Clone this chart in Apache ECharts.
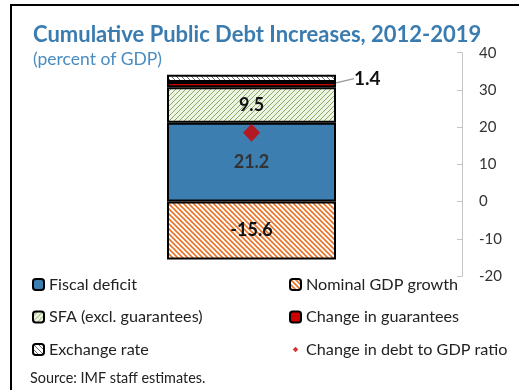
<!DOCTYPE html>
<html>
<head>
<meta charset="utf-8">
<script src="https://cdn.jsdelivr.net/npm/echarts@6/dist/echarts.min.js"></script>
<style>
  html, body { margin: 0; padding: 0; background: #fff; }
  #chart { width: 519px; height: 390px; }
</style>
</head>
<body>
<div id="chart"></div>
<script>
// Decomposition of the cumulative change in public debt, 2012-2019 (percent of GDP)
const categories = ['2012-2019'];
const fiscalDeficit = [21.2];
const sfa = [9.5];
const guarantees = [1.4];
const exchangeRate = [2.0];
const nominalGdpGrowth = [-15.6];
const debtChange = [18.5];
const yTicks = { min: -20, max: 40, interval: 10 };

const FONT = 'Lato';

// Hatched fills drawn on small repeating tiles
function hatch(bg, fg, size, lw, dir) {
  const c = document.createElement('canvas');
  c.width = size; c.height = size;
  const g = c.getContext('2d');
  g.fillStyle = bg; g.fillRect(0, 0, size, size);
  g.strokeStyle = fg; g.lineWidth = lw;
  g.beginPath();
  for (let k = -1; k <= 1; k++) {
    if (dir === 'back') {
      g.moveTo(k * size - 1, -1); g.lineTo(k * size + size + 1, size + 1);
    } else {
      g.moveTo(k * size - 1, size + 1); g.lineTo(k * size + size + 1, -1);
    }
  }
  g.stroke();
  return { image: c, repeat: 'repeat' };
}

const fillExchange = hatch('#ffffff', '#6b6b6b', 5, 1, 'back');
const fillSfa = hatch('#eef4e4', '#8aab62', 5, 1, 'fwd');
const fillGdp = hatch('#ffffff', '#e8742a', 5, 1.6, 'back');

const chart = echarts.init(document.getElementById('chart'));

const border = { borderColor: '#000', borderWidth: 2 };
const insideLabel = (color) => ({
  show: true, position: 'inside', fontFamily: FONT, fontWeight: 'bold',
  fontSize: 18, color: color
});
const legendText = { fontFamily: FONT, fontSize: 16.2, color: '#222', lineHeight: 17 };

chart.setOption({
  animation: false,
  title: [
    {
      text: 'Cumulative Public Debt Increases, 2012-2019',
      left: 28, top: 19,
      textStyle: { fontFamily: FONT, fontWeight: 'bold', fontSize: 22, color: '#3a7cb0' }
    },
    {
      text: '(percent of GDP)',
      left: 28, top: 45,
      textStyle: { fontFamily: FONT, fontWeight: 'normal', fontSize: 17.5, color: '#4a8cc0' }
    },
    {
      text: 'Source: IMF staff estimates.',
      left: 25, top: 366,
      textStyle: { fontFamily: FONT, fontWeight: 'normal', fontSize: 14.4, color: '#222' }
    }
  ],
  graphic: [
    {
      type: 'rect', silent: true, z: 100,
      shape: { x: 11, y: 5, width: 620, height: 500 },
      style: { fill: 'none', stroke: '#000', lineWidth: 2 }
    }
  ],
  grid: { left: 41, right: 57, top: 52.7, bottom: 114 },
  xAxis: {
    type: 'category', data: categories, show: false
  },
  yAxis: {
    type: 'value', position: 'right',
    min: yTicks.min, max: yTicks.max, interval: yTicks.interval,
    axisLine: { show: true, lineStyle: { color: '#c4c4c4', width: 1 } },
    axisTick: { show: true, inside: true, length: 5, lineStyle: { color: '#c4c4c4' } },
    splitLine: { show: false },
    axisLabel: { margin: 17, fontFamily: FONT, fontSize: 15, color: '#333' }
  },
  legend: [
    {
      left: 27, top: 271, orient: 'vertical', itemGap: 15.5,
      itemWidth: 11, itemHeight: 11,
      textStyle: legendText,
      itemStyle: { borderColor: '#000', borderWidth: 2 },
      data: ['Fiscal deficit', 'SFA (excl. guarantees)', 'Exchange rate']
    },
    {
      left: 284, top: 271, orient: 'vertical', itemGap: 15.5,
      itemWidth: 11, itemHeight: 11,
      textStyle: legendText,
      itemStyle: { borderColor: '#000', borderWidth: 2 },
      data: [
        'Nominal GDP growth',
        'Change in guarantees',
        {
          name: 'Change in debt to GDP ratio',
          icon: 'path://M0,0M20,20M10,5L15,10L10,15L5,10Z',
          itemStyle: { borderWidth: 0 }
        }
      ]
    }
  ],
  series: [
    {
      name: 'Fiscal deficit', type: 'bar', stack: 'debt', barWidth: 169,
      data: fiscalDeficit,
      itemStyle: Object.assign({ color: '#3c7eb0' }, border),
      label: insideLabel('#333')
    },
    {
      name: 'SFA (excl. guarantees)', type: 'bar', stack: 'debt', barWidth: 169,
      data: sfa,
      itemStyle: Object.assign({ color: fillSfa }, border),
      label: insideLabel('#111')
    },
    {
      name: 'Change in guarantees', type: 'bar', stack: 'debt', barWidth: 169,
      data: guarantees,
      itemStyle: Object.assign({ color: '#d00000' }, border),
      label: {
        show: true, position: 'right', distance: 0,
        fontFamily: FONT, fontWeight: 'bold', fontSize: 19, color: '#111'
      },
      labelLayout: { dx: 18, dy: -6 },
      labelLine: { show: true, lineStyle: { color: '#999', width: 1.2 } }
    },
    {
      name: 'Exchange rate', type: 'bar', stack: 'debt', barWidth: 169,
      data: exchangeRate,
      itemStyle: Object.assign({ color: fillExchange }, border)
    },
    {
      name: 'Nominal GDP growth', type: 'bar', stack: 'debt', barWidth: 169,
      data: nominalGdpGrowth,
      itemStyle: Object.assign({ color: fillGdp }, border),
      label: insideLabel('#111')
    },
    {
      name: 'Change in debt to GDP ratio', type: 'scatter',
      data: debtChange, symbol: 'diamond', symbolSize: [17, 18], z: 10,
      itemStyle: { color: '#d00000' }
    }
  ]
});
</script>
</body>
</html>
